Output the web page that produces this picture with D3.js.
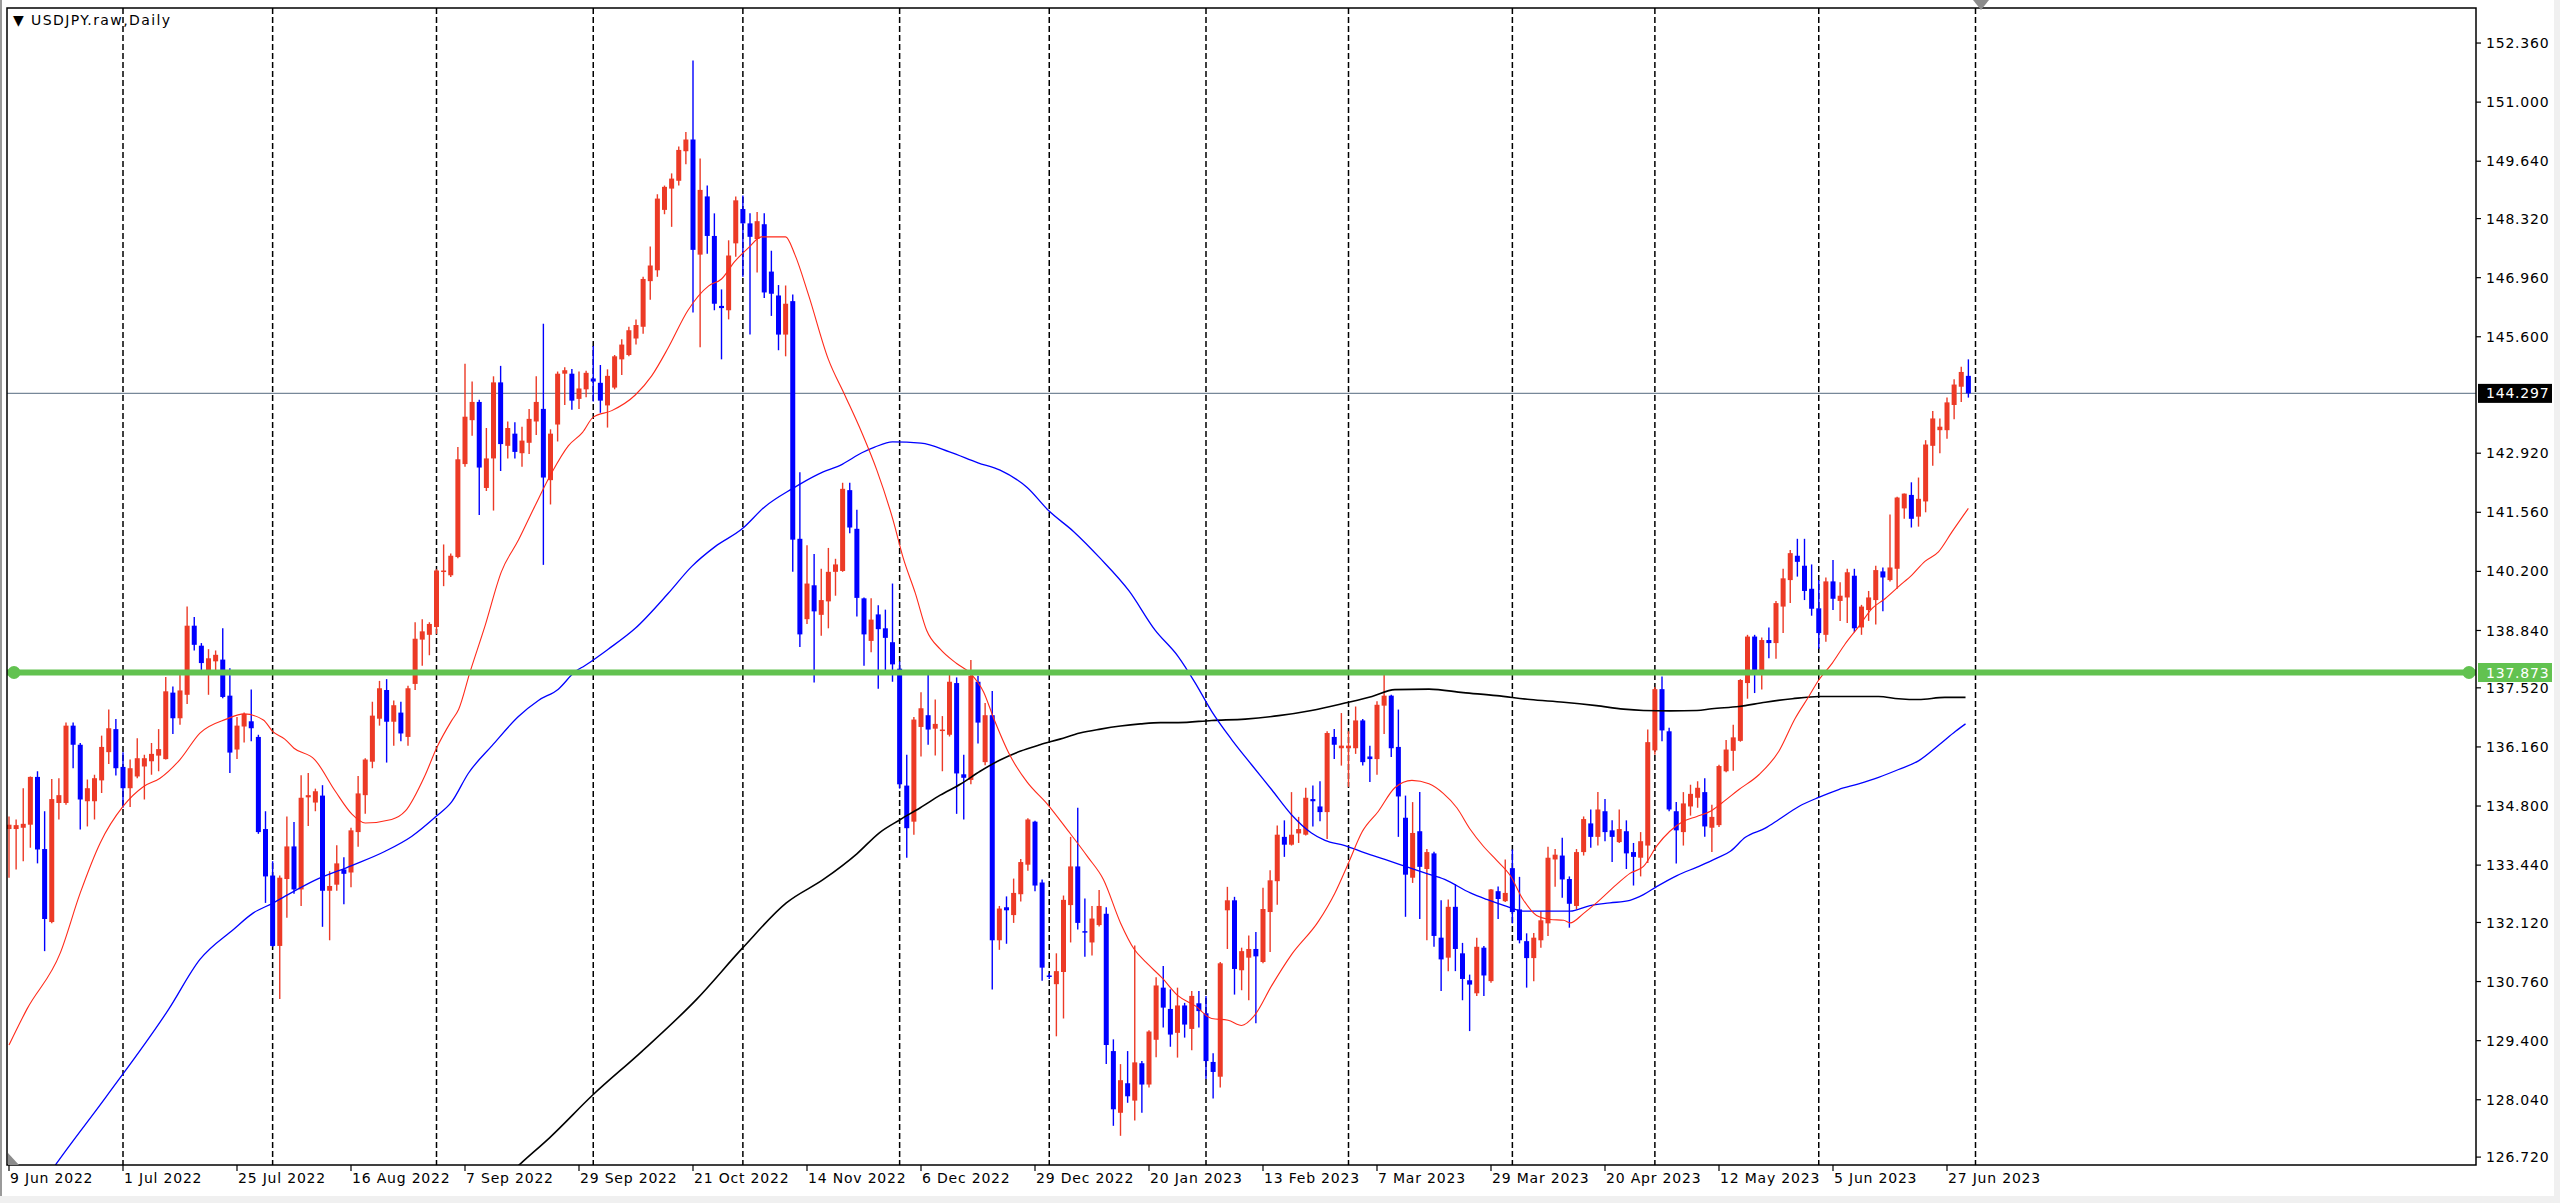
<!DOCTYPE html>
<html>
<head>
<meta charset="utf-8">
<script src="https://cdn.jsdelivr.net/npm/d3@7"></script>
<style>
html, body { margin: 0; padding: 0; background: #f0f0f0; }
svg { display: block; }
text { font-family: "DejaVu Sans", Verdana, sans-serif; font-size: 14px; }
</style>
</head>
<body>
<svg id="chart"></svg>
<script>
// USDJPY daily bars, 9 Jun 2022 .. 30 Jun 2023 (one value per bar)
const opens = [
  134.27, 134.27, 134.30, 134.37, 135.47, 133.81, 132.13, 134.87, 134.87, 136.65,
  136.21, 134.91, 134.91, 135.39, 136.04, 136.57, 135.70, 135.21, 135.48, 135.71,
  135.83, 135.96, 135.88, 137.41, 136.82, 137.36, 138.95, 138.49, 137.92, 138.13,
  138.17, 137.34, 136.10, 136.63, 136.75, 136.39, 134.27, 133.20, 131.58, 133.12,
  133.87, 132.88, 135.00, 134.88, 135.04, 132.85, 132.99, 133.34, 133.27, 134.20,
  135.05, 135.82, 136.81, 137.47, 136.74, 136.95, 136.39, 137.61, 138.63, 138.74,
  138.92, 140.19, 140.11, 140.53, 142.67, 143.68, 144.10, 142.12, 142.80, 144.55,
  143.09, 143.37, 142.92, 143.16, 143.65, 143.94, 142.30, 143.58, 144.75, 144.75,
  144.17, 144.39, 144.64, 144.54, 144.02, 144.43, 145.08, 145.18, 145.56, 145.83,
  146.88, 147.13, 148.52, 149.01, 149.19, 149.87, 150.14, 147.49, 148.83, 147.92,
  146.31, 146.21, 147.75, 148.54, 148.21, 147.85, 148.19, 147.10, 146.55, 145.65,
  146.42, 140.95, 139.10, 139.88, 139.20, 139.51, 140.19, 140.21, 142.07, 141.18,
  139.58, 138.60, 139.21, 138.89, 138.57, 137.96, 135.27, 134.44, 136.62, 136.89,
  136.58, 136.54, 136.44, 137.63, 135.53, 135.40, 137.66, 135.81, 136.89, 131.71,
  132.47, 132.29, 132.77, 133.45, 134.44, 133.04, 130.90, 130.70, 130.98, 132.52,
  133.41, 131.92, 131.66, 132.06, 132.32, 129.16, 127.74, 128.42, 128.02, 128.88,
  128.39, 129.42, 130.62, 130.13, 129.58, 130.21, 129.67, 130.26, 130.03, 128.91,
  128.57, 132.40, 132.63, 131.02, 131.31, 131.51, 131.21, 132.36, 133.07, 134.09,
  133.91, 134.17, 134.14, 134.96, 134.79, 134.66, 136.39, 136.13, 136.13, 136.13,
  136.77, 135.94, 135.88, 137.11, 137.34, 136.16, 134.53, 133.15, 134.22, 133.35,
  133.71, 131.77, 131.31, 132.48, 131.41, 130.79, 130.49, 131.54, 130.77, 132.84,
  132.61, 133.37, 132.42, 131.69, 131.30, 131.71, 132.10, 133.57, 133.66, 133.12,
  132.50, 133.74, 134.40, 134.09, 134.68, 134.24, 133.97, 134.22, 133.74, 133.61,
  133.89, 136.08, 137.49, 136.52, 134.68, 134.20, 134.79, 134.99, 135.12, 134.30,
  134.36, 135.60, 136.07, 136.30, 137.63, 138.70, 137.93, 138.62, 138.55, 139.39,
  140.00, 140.56, 140.33, 139.80, 139.35, 138.74, 139.97, 139.52, 139.60, 140.10,
  138.91, 139.31, 139.54, 140.20, 140.00, 140.26, 141.65, 141.96, 141.46, 141.81,
  143.09, 143.45, 143.45, 144.03, 144.45, 144.70
];
const highs = [
  134.56, 134.49, 135.21, 135.48, 135.60, 134.68, 135.42, 135.44, 136.72, 136.72,
  136.25, 135.41, 135.52, 136.42, 137.02, 136.80, 136.04, 135.87, 136.36, 135.98,
  136.25, 136.57, 137.77, 137.55, 137.86, 139.39, 139.15, 138.55, 138.41, 138.38,
  138.89, 137.97, 136.85, 136.95, 137.48, 136.44, 134.68, 133.53, 133.20, 134.56,
  134.43, 135.51, 135.56, 135.20, 135.28, 133.30, 133.90, 133.62, 134.30, 135.49,
  135.90, 137.20, 137.68, 137.72, 137.23, 137.20, 137.57, 139.03, 139.10, 139.03,
  140.25, 140.82, 140.61, 143.06, 144.98, 144.57, 144.15, 143.50, 144.69, 144.93,
  143.65, 143.63, 143.53, 143.94, 144.69, 145.90, 143.47, 144.80, 144.90, 144.86,
  144.80, 144.82, 145.39, 144.95, 144.85, 145.18, 145.54, 145.83, 146.00, 146.98,
  147.68, 148.88, 149.08, 149.36, 149.98, 150.31, 151.96, 149.70, 149.08, 148.44,
  146.69, 147.82, 148.83, 148.85, 148.44, 148.47, 148.44, 147.58, 146.79, 146.78,
  146.57, 142.48, 140.80, 140.60, 140.26, 140.74, 140.49, 142.24, 142.24, 141.62,
  139.60, 139.58, 139.42, 139.32, 139.92, 138.13, 135.98, 136.85, 137.42, 137.86,
  137.25, 136.87, 137.86, 137.76, 135.98, 138.16, 137.80, 137.17, 137.45, 132.50,
  132.72, 133.13, 133.58, 134.52, 134.46, 133.11, 130.95, 131.41, 132.74, 134.09,
  134.76, 132.67, 132.50, 132.87, 132.47, 129.43, 128.86, 129.16, 131.59, 128.93,
  129.64, 130.86, 131.12, 130.58, 130.62, 130.27, 130.54, 130.54, 130.43, 129.11,
  131.21, 132.94, 132.71, 131.54, 131.82, 131.90, 132.92, 133.32, 134.35, 134.47,
  135.12, 134.55, 135.22, 135.27, 135.37, 136.52, 136.57, 136.94, 136.52, 137.09,
  136.80, 136.19, 137.21, 137.92, 137.36, 137.02, 135.04, 134.89, 135.12, 133.81,
  133.75, 132.63, 132.65, 133.00, 131.65, 130.92, 131.77, 131.58, 132.89, 132.95,
  133.57, 133.80, 133.17, 131.87, 131.88, 132.38, 133.86, 133.81, 134.07, 133.18,
  133.81, 134.56, 134.72, 135.12, 134.96, 134.47, 134.72, 134.47, 133.95, 134.20,
  136.56, 137.54, 137.78, 136.60, 134.89, 135.12, 135.29, 135.37, 135.44, 134.83,
  135.75, 136.32, 136.67, 137.72, 138.74, 138.74, 138.68, 138.91, 139.52, 140.26,
  140.69, 140.95, 140.95, 140.36, 140.00, 140.06, 140.46, 139.95, 140.26, 140.26,
  139.43, 139.75, 140.33, 140.29, 141.51, 141.92, 141.99, 142.25, 142.36, 143.22,
  143.89, 143.72, 144.20, 144.62, 144.91, 145.08
];
const lows = [
  133.15, 133.34, 133.53, 133.84, 133.48, 131.46, 132.10, 134.49, 134.83, 135.67,
  134.26, 134.33, 134.49, 135.10, 135.77, 135.50, 134.76, 134.78, 135.44, 134.95,
  135.52, 135.60, 135.87, 136.46, 136.67, 137.15, 138.38, 137.84, 137.36, 137.87,
  137.28, 135.56, 135.88, 136.26, 136.29, 134.16, 132.57, 131.56, 130.36, 132.23,
  132.78, 132.50, 134.34, 134.68, 132.02, 131.71, 132.85, 132.54, 132.93, 133.86,
  134.62, 135.67, 136.65, 135.80, 136.19, 136.29, 136.19, 137.47, 138.03, 138.27,
  138.76, 139.86, 140.07, 140.50, 142.61, 143.32, 141.50, 142.05, 141.60, 142.51,
  142.80, 142.80, 142.61, 142.90, 143.34, 140.35, 141.74, 143.19, 144.03, 143.92,
  143.94, 144.21, 144.11, 143.85, 143.51, 144.39, 144.72, 145.15, 145.42, 145.67,
  146.45, 146.98, 148.42, 148.13, 149.08, 149.57, 146.16, 145.36, 147.51, 146.21,
  145.08, 146.00, 147.44, 146.98, 145.65, 147.08, 146.49, 146.08, 145.29, 145.15,
  140.19, 138.46, 138.99, 137.64, 138.72, 138.89, 139.64, 140.19, 141.08, 139.16,
  138.03, 138.34, 137.50, 137.83, 137.66, 135.20, 133.61, 134.14, 135.94, 136.21,
  135.96, 135.60, 136.40, 134.62, 134.49, 135.30, 136.24, 135.74, 130.58, 131.49,
  131.63, 132.11, 132.60, 133.31, 132.84, 130.78, 130.82, 129.50, 129.91, 131.66,
  131.96, 131.33, 131.36, 132.03, 128.86, 127.44, 127.21, 127.97, 127.56, 127.74,
  128.32, 129.02, 129.70, 129.26, 129.01, 129.47, 129.18, 129.70, 128.52, 128.07,
  128.32, 131.51, 130.46, 130.56, 130.33, 129.80, 131.18, 131.44, 132.53, 133.63,
  133.89, 133.95, 134.12, 134.33, 134.45, 134.04, 135.88, 135.73, 135.24, 136.00,
  135.73, 135.35, 135.52, 136.46, 135.93, 134.09, 132.25, 133.03, 132.20, 131.71,
  131.56, 130.54, 131.00, 131.00, 130.33, 129.62, 130.43, 130.43, 130.73, 132.20,
  132.59, 132.10, 131.64, 130.62, 130.77, 131.54, 131.81, 132.94, 132.69, 132.00,
  132.42, 133.66, 133.84, 133.89, 133.99, 133.51, 133.95, 133.35, 132.97, 133.18,
  133.49, 135.98, 136.29, 134.68, 133.48, 133.89, 134.58, 134.76, 134.09, 133.74,
  134.32, 135.58, 135.61, 136.28, 137.27, 137.40, 137.48, 138.20, 138.19, 138.78,
  139.47, 140.08, 139.54, 139.18, 138.42, 138.58, 139.31, 139.06, 139.01, 138.80,
  138.74, 139.06, 138.98, 139.28, 139.97, 139.80, 141.41, 141.21, 141.23, 141.56,
  142.63, 142.92, 143.25, 143.70, 144.10, 144.20
];
const closes = [
  134.37, 134.36, 134.39, 135.47, 133.80, 132.20, 134.96, 135.05, 136.65, 136.21,
  134.95, 135.21, 135.44, 136.16, 136.59, 135.67, 135.21, 135.67, 135.90, 135.90,
  136.00, 136.11, 137.44, 136.82, 137.46, 138.95, 138.51, 138.09, 138.20, 138.28,
  137.31, 136.03, 136.65, 136.92, 136.59, 134.20, 133.18, 131.58, 133.15, 133.87,
  132.88, 134.99, 135.05, 135.14, 132.85, 132.96, 133.48, 133.24, 134.24, 135.09,
  135.87, 136.88, 137.51, 136.74, 137.12, 136.47, 137.51, 138.65, 138.82, 138.99,
  140.22, 140.22, 140.56, 142.78, 143.76, 144.10, 142.59, 142.80, 144.55, 143.13,
  143.50, 142.95, 143.21, 143.71, 144.10, 142.36, 143.37, 144.75, 144.83, 144.13,
  144.41, 144.77, 144.57, 144.13, 144.70, 145.15, 145.42, 145.75, 145.87, 146.93,
  147.24, 148.78, 149.05, 149.24, 149.90, 150.14, 147.60, 148.98, 147.92, 146.36,
  146.26, 147.47, 148.74, 148.21, 147.90, 148.26, 146.62, 146.59, 145.65, 146.36,
  140.93, 138.75, 139.92, 139.28, 139.54, 140.19, 140.36, 142.10, 141.21, 139.59,
  138.75, 139.09, 138.87, 138.67, 138.06, 135.30, 134.29, 136.79, 137.05, 136.56,
  136.69, 136.56, 137.66, 135.55, 135.45, 137.80, 136.72, 136.89, 131.71, 132.44,
  132.40, 132.80, 133.51, 134.49, 132.97, 131.08, 130.87, 131.00, 132.64, 133.41,
  132.11, 131.89, 132.21, 132.50, 129.30, 127.82, 128.49, 128.12, 128.90, 128.39,
  129.61, 130.67, 130.16, 129.54, 130.21, 129.77, 130.43, 130.08, 128.93, 128.68,
  131.18, 132.63, 131.05, 131.46, 131.51, 131.34, 132.43, 133.09, 134.14, 133.91,
  134.14, 134.27, 134.99, 134.91, 134.66, 136.48, 136.21, 136.19, 136.19, 136.77,
  135.81, 135.88, 137.13, 137.34, 136.13, 135.02, 133.22, 134.18, 133.40, 133.74,
  131.81, 131.27, 132.48, 131.51, 130.82, 130.69, 131.56, 130.90, 132.88, 132.66,
  132.80, 132.36, 131.71, 131.30, 131.77, 132.17, 133.61, 133.68, 133.11, 132.55,
  133.74, 134.50, 134.09, 134.72, 134.20, 134.09, 134.27, 133.71, 133.63, 133.99,
  136.27, 137.49, 136.54, 134.72, 134.24, 134.86, 135.08, 135.22, 134.33, 134.55,
  135.72, 136.10, 136.38, 137.70, 138.70, 137.91, 138.62, 138.55, 139.47, 140.04,
  140.62, 140.42, 139.75, 139.34, 138.78, 139.97, 139.57, 139.64, 140.18, 138.89,
  139.39, 139.60, 140.23, 140.06, 140.29, 141.90, 141.99, 141.41, 141.87, 143.12,
  143.72, 143.53, 144.09, 144.50, 144.79, 144.297
];

// moving averages as [bar index, value] pairs
const maFast = [
  [0,129.3],[2.5,130.12],[7.2,131.42],[10,132.8],[12.8,133.95],[16,134.79],[18.9,135.25],[21.2,135.44],
  [24,135.87],[26.8,136.48],[30.5,136.8],[33,136.92],[35.7,136.78],[37,136.52],[38.7,136.34],[40,136.13],
  [42.9,135.87],[45.8,135.14],[48.1,134.62],[50,134.41],[53.7,134.49],[55.6,134.68],[58.4,135.51],[60,136.13],
  [62.1,136.76],[63.1,137.02],[64.7,137.88],[66.8,138.94],[69.1,140.19],[71.5,140.92],[73.8,141.7],[76.2,142.48],
  [78.5,143.09],[80.5,143.4],[82,143.75],[84.6,143.9],[87.9,144.26],[90.2,144.7],[92.5,145.34],[95.3,146.21],
  [98.2,146.77],[100,146.93],[101.9,147.34],[103.8,147.65],[105.6,147.9],[109,147.9],[110.3,147.49],[112.2,146.57],
  [115,145.08],[117.3,144.26],[119.7,143.39],[121.8,142.53],[124.1,141.37],[125.5,140.51],[127.2,139.7],[128.8,138.84],
  [130.7,138.41],[133,138.08],[134.9,137.86],[136.8,137.42],[138.2,136.82],[140.5,135.96],[142.9,135.35],[145.7,134.85],
  [148.6,134.24],[151.4,133.63],[153.6,133.11],[156,132.11],[157.9,131.51],[159.6,131.2],[161.8,130.85],[164.1,130.43],
  [166.5,130.2],[168.8,129.91],[171.1,129.87],[173,129.75],[174.9,130.0],[177.2,130.66],[180,131.38],[183.8,132.15],
  [186.1,132.8],[188,133.49],[189.9,134.2],[192.2,134.68],[194.5,135.22],[196.9,135.39],[199.3,135.31],[201.3,135.09],
  [203.2,134.76],[205.1,134.26],[206.9,133.88],[208.8,133.55],[210.7,133.2],[212.5,132.65],[214.4,132.28],[216.3,132.19],
  [218.2,132.17],[219.1,132.11],[221,132.33],[222.8,132.57],[225.6,132.99],[227.5,133.25],[229.4,133.41],[231.3,133.89],
  [233.1,134.22],[235,134.45],[236.9,134.56],[238.8,134.68],[240.4,134.87],[242.8,135.18],[245.6,135.52],[248.4,136.06],
  [250.7,136.82],[252.6,137.32],[254,137.7],[255.9,138.09],[257.7,138.53],[259.6,138.93],[261.5,139.35],[263.3,139.57],
  [265.2,139.85],[267.1,140.12],[268.9,140.43],[270.8,140.65],[272.7,141.11],[275,141.65]
];
const maMid = [
  [5.5,126.3],[6.7,126.58],[13.6,128.1],[22.4,130.12],[26.8,131.27],[31.5,131.96],[34.3,132.34],[37.1,132.57],
  [38.7,132.72],[42.9,133.09],[48.1,133.43],[52.8,133.76],[56.5,134.1],[60,134.57],[62.1,134.89],[64.5,135.56],
  [67.8,136.19],[71.5,136.86],[74.3,137.23],[77.1,137.49],[79.5,137.9],[80.8,138.03],[84.1,138.41],[87.9,138.89],
  [92.5,139.69],[95.8,140.31],[99.1,140.77],[102.9,141.18],[106.1,141.69],[109.9,142.1],[113.6,142.44],[117,142.67],
  [119.7,142.93],[121.5,143.06],[124,143.18],[128,143.15],[132,142.95],[136,142.7],[139.1,142.53],[142.9,142.13],
  [145.9,141.6],[149.4,141.12],[153.1,140.51],[157.2,139.75],[160.8,138.86],[164.1,138.24],[166.5,137.63],[168.8,136.98],
  [171.6,136.33],[174.4,135.75],[177.2,135.18],[180,134.6],[182.8,134.18],[184.7,134.01],[187.5,133.89],[190.3,133.72],
  [193.1,133.57],[196,133.41],[198.7,133.26],[201.5,133.11],[205.1,132.8],[207.4,132.65],[210.2,132.49],[212.5,132.38],
  [215.4,132.38],[219.1,132.38],[221.9,132.51],[224.7,132.57],[227.5,132.63],[229.4,132.76],[231.3,132.95],[234.1,133.2],
  [237,133.4],[239.7,133.6],[241.6,133.76],[243.7,134.08],[246.5,134.29],[248.4,134.49],[251.2,134.79],[254,135.0],
  [256.8,135.18],[259.6,135.31],[262.4,135.46],[265.2,135.64],[268,135.84],[270.9,136.21],[273.2,136.52],[274.6,136.69]
];
const maSlow = [
  [71,126.45],[72,126.6],[75.9,127.17],[82,128.16],[88.6,129.12],[96.5,130.35],[103,131.54],[109.1,132.57],
  [114.3,133.11],[119,133.7],[122.2,134.19],[125.1,134.49],[127.9,134.76],[130.7,135.05],[133.5,135.3],[136.3,135.6],
  [139.1,135.86],[141.9,136.06],[144.7,136.21],[147.5,136.34],[150.3,136.48],[153.2,136.57],[156,136.64],[158.8,136.69],
  [161.6,136.72],[164.1,136.72],[168.8,136.77],[173.5,136.8],[178.2,136.88],[182.8,137.0],[187.5,137.17],[191.3,137.32],
  [194.5,137.48],[199.3,137.49],[204.1,137.41],[208.8,137.34],[213.5,137.25],[218.2,137.19],[222.8,137.11],[226.6,137.03],
  [229.4,137.0],[233.1,136.99],[236.9,137.0],[239,137.04],[242.8,137.09],[246.5,137.19],[250.3,137.27],[254,137.32],
  [257.7,137.32],[262.4,137.32],[265.2,137.27],[268,137.25],[271.7,137.3],[274.6,137.3]
];

const tickLabels = ["9 Jun 2022", "1 Jul 2022", "25 Jul 2022", "16 Aug 2022", "7 Sep 2022", "29 Sep 2022",
  "21 Oct 2022", "14 Nov 2022", "6 Dec 2022", "29 Dec 2022", "20 Jan 2023", "13 Feb 2023",
  "7 Mar 2023", "29 Mar 2023", "20 Apr 2023", "12 May 2023", "5 Jun 2023", "27 Jun 2023"];
const priceTicks = [152.36, 151.0, 149.64, 148.32, 146.96, 145.6, 142.92, 141.56, 140.2, 138.84,
  137.52, 136.16, 134.8, 133.44, 132.12, 130.76, 129.4, 128.04, 126.72];
const lastPrice = 144.297;
const levelPrice = 137.873;
const holidays = ["2022-12-26"];

// trading days (weekdays, broker holidays skipped) incl. the next session after the last bar
const fmtDay = d3.timeFormat("%Y-%m-%d");
const days = d3.timeDay.range(new Date(2022, 5, 9), new Date(2023, 6, 4))
  .filter(d => d.getDay() !== 0 && d.getDay() !== 6 && !holidays.includes(fmtDay(d)));
const monthStarts = days.map((d, i) => i).filter(i => i > 0 && days[i].getMonth() !== days[i - 1].getMonth());

const width = 2560;
const height = 1203;
const plot = { left: 7, top: 8, right: 2476, bottom: 1165 };
const barStep = 7.125;
const bull = "#ec3a26";
const bear = "#0000ff";

const svg = d3.select("#chart").attr("width", width).attr("height", height);

svg.append("rect").attr("width", width).attr("height", height).attr("fill", "#f0f0f0");
svg.append("rect").attr("width", 2554).attr("height", 1196).attr("fill", "#ffffff");
svg.append("line").attr("x1", 1).attr("x2", 1).attr("y1", 0).attr("y2", 1196)
  .attr("stroke", "#9a9a9a").attr("stroke-width", 2);

const x = d3.scaleLinear()
  .domain([-(9 - plot.left) / barStep, (plot.right - 9) / barStep])
  .range([plot.left, plot.right]);
const y = d3.scaleLinear()
  .domain([levelPrice - (plot.bottom - 672.5) / 43.45, levelPrice + (672.5 - plot.top) / 43.45])
  .range([plot.bottom, plot.top]);

svg.append("clipPath").attr("id", "clip")
  .append("rect")
  .attr("x", plot.left).attr("y", plot.top)
  .attr("width", plot.right - plot.left).attr("height", plot.bottom - plot.top);

const body = svg.append("g").attr("clip-path", "url(#clip)");

// month separators
body.selectAll(".sep")
  .data(monthStarts)
  .join("line")
  .attr("class", "sep")
  .attr("x1", d => x(d)).attr("x2", d => x(d))
  .attr("y1", plot.top).attr("y2", plot.bottom)
  .attr("stroke", "#000").attr("stroke-width", 1.5)
  .attr("stroke-dasharray", "6,3");

// bid line
body.append("line")
  .attr("x1", plot.left).attr("x2", plot.right)
  .attr("y1", y(lastPrice)).attr("y2", y(lastPrice))
  .attr("stroke", "#778899").attr("stroke-width", 1.2);

// candles
const bars = opens.map((o, i) => ({ i, o, h: highs[i], l: lows[i], c: closes[i] }));
const col = d => d.c >= d.o ? bull : bear;

body.selectAll(".wick")
  .data(bars)
  .join("line")
  .attr("class", "wick")
  .attr("x1", d => x(d.i)).attr("x2", d => x(d.i))
  .attr("y1", d => y(d.h)).attr("y2", d => y(d.l))
  .attr("stroke", col).attr("stroke-width", 1.4);

body.selectAll(".candle")
  .data(bars)
  .join("rect")
  .attr("class", "candle")
  .attr("x", d => x(d.i) - 2.5)
  .attr("width", 5)
  .attr("y", d => y(Math.max(d.o, d.c)))
  .attr("height", d => Math.max(1.5, Math.abs(y(d.o) - y(d.c))))
  .attr("fill", col);

// moving averages
const maLine = d3.line()
  .x(d => x(d[0]))
  .y(d => y(d[1]))
  .curve(d3.curveMonotoneX);

[[maSlow, "#000000", 1.6], [maMid, "#0000ff", 1.3], [maFast, "#ff2a1a", 1.1]].forEach(([data, color, w]) => {
  body.append("path")
    .datum(data)
    .attr("d", maLine)
    .attr("fill", "none")
    .attr("stroke", color)
    .attr("stroke-width", w);
});

// horizontal level
const green = "#62c250";
body.append("line")
  .attr("x1", plot.left).attr("x2", plot.right)
  .attr("y1", y(levelPrice)).attr("y2", y(levelPrice))
  .attr("stroke", green).attr("stroke-width", 6);
body.selectAll(".anchor")
  .data([plot.left + 7, plot.right - 7])
  .join("circle")
  .attr("cx", d => d).attr("cy", y(levelPrice)).attr("r", 6.5)
  .attr("fill", green);

// frame
svg.append("rect")
  .attr("x", plot.left).attr("y", plot.top)
  .attr("width", plot.right - plot.left).attr("height", plot.bottom - plot.top)
  .attr("fill", "none").attr("stroke", "#000").attr("stroke-width", 1.5);

// price scale
const yAxis = svg.append("g");
yAxis.selectAll(".ytick")
  .data(priceTicks)
  .join("line")
  .attr("x1", plot.right).attr("x2", plot.right + 5)
  .attr("y1", d => y(d)).attr("y2", d => y(d))
  .attr("stroke", "#000").attr("stroke-width", 1.2);
yAxis.selectAll(".ylab")
  .data(priceTicks)
  .join("text")
  .attr("x", plot.right + 10)
  .attr("y", d => y(d))
  .attr("dy", "0.36em")
  .attr("letter-spacing", 0.8)
  .text(d => d.toFixed(3));

[[lastPrice, "#000000"], [levelPrice, green]].forEach(([v, fill]) => {
  yAxis.append("rect")
    .attr("x", plot.right + 2).attr("y", y(v) - 9.5)
    .attr("width", 74).attr("height", 19)
    .attr("fill", fill);
  yAxis.append("text")
    .attr("x", plot.right + 10).attr("y", y(v)).attr("dy", "0.36em")
    .attr("letter-spacing", 0.8)
    .attr("fill", "#fff")
    .text(v.toFixed(3));
});

// time scale
const xAxis = svg.append("g");
xAxis.selectAll(".xtick")
  .data(tickLabels)
  .join("line")
  .attr("x1", (d, k) => x(k * 16)).attr("x2", (d, k) => x(k * 16))
  .attr("y1", plot.bottom).attr("y2", plot.bottom + 6)
  .attr("stroke", "#000").attr("stroke-width", 1.2);
xAxis.selectAll(".xlab")
  .data(tickLabels)
  .join("text")
  .attr("x", (d, k) => x(k * 16) + 1)
  .attr("y", plot.bottom + 18)
  .attr("letter-spacing", 0.8)
  .text(d => d);

// chart shift / scale markers
svg.append("path").attr("d", "M1973,0 L1989,0 L1981,10 Z").attr("fill", "#8c8c8c");
svg.append("path").attr("d", `M${plot.left + 1},${plot.bottom - 12} L${plot.left + 1},${plot.bottom} L${plot.left + 12},${plot.bottom} Z`)
  .attr("fill", "#8c8c8c");

// title
svg.append("text")
  .attr("x", 13).attr("y", 25)
  .attr("font-size", 15)
  .attr("letter-spacing", 1.4)
  .text("\u25BC USDJPY.raw,Daily");
</script>
</body>
</html>
